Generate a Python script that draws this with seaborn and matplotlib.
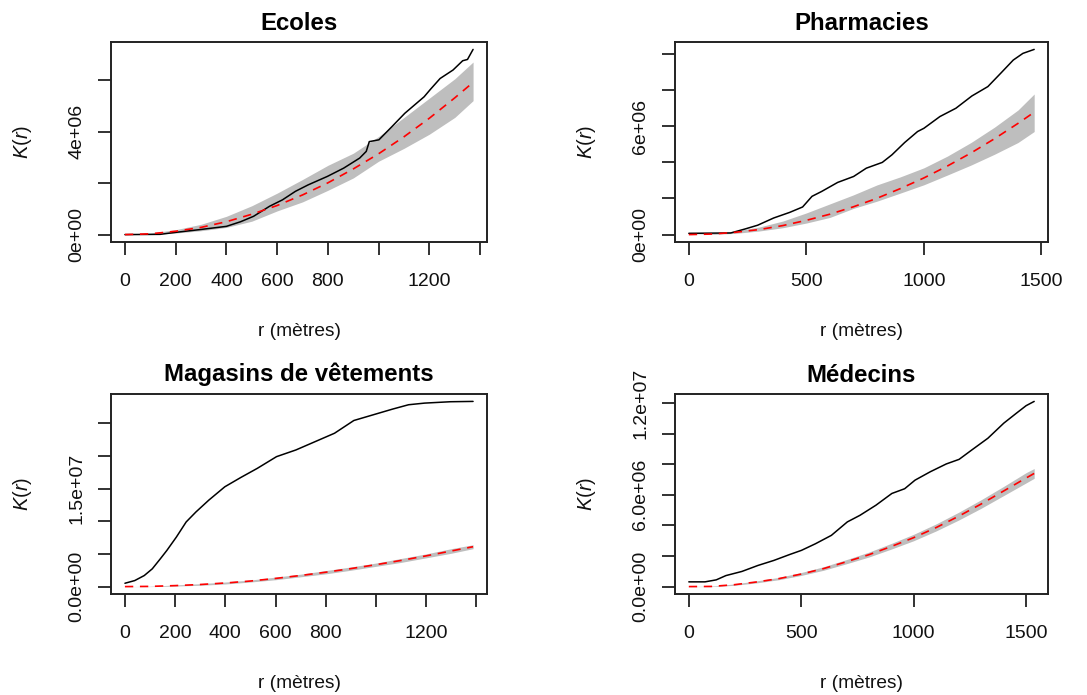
import matplotlib
matplotlib.use("Agg")
import numpy as np
import pandas as pd
import matplotlib.pyplot as plt
import seaborn as sns

# ---------------------------------------------------------------------------
# Ripley K function: observed curve, theoretical (CSR) curve and envelope.
# K values are in millions (m^2 x 1e6), distances r in metres.
# ---------------------------------------------------------------------------

titles = ["Ecoles", "Pharmacies", "Magasins de vêtements", "Médecins"]

# Ecoles
ecoles_r_obs = [0, 139, 203, 292, 400, 456, 507, 570, 621, 672, 722, 798, 862,
                925, 951, 963, 1001, 1052, 1103, 1141, 1179, 1204, 1242, 1293,
                1331, 1350, 1372]
ecoles_k_obs = [0.00, 0.01, 0.09, 0.19, 0.32, 0.50, 0.71, 1.10, 1.35, 1.68,
                1.93, 2.26, 2.58, 2.97, 3.23, 3.61, 3.68, 4.19, 4.71, 5.03,
                5.35, 5.64, 6.06, 6.39, 6.75, 6.80, 7.19]
ecoles_r_env = [0, 100, 200, 300, 400, 500, 600, 700, 800, 900, 1000, 1100,
                1200, 1300, 1372]
ecoles_k_theo = [0.00, 0.03, 0.13, 0.28, 0.50, 0.79, 1.13, 1.54, 2.01, 2.55,
                 3.14, 3.80, 4.52, 5.31, 5.91]
ecoles_k_hi = [0.00, 0.06, 0.19, 0.40, 0.71, 1.12, 1.61, 2.14, 2.69, 3.16,
               3.81, 4.55, 5.30, 6.05, 6.70]
ecoles_k_lo = [0.00, 0.01, 0.06, 0.15, 0.28, 0.52, 0.92, 1.27, 1.72, 2.20,
               2.85, 3.35, 3.90, 4.55, 5.20]

# Pharmacies
pharma_r_obs = [0, 178, 239, 293, 361, 429, 484, 524, 565, 633, 701, 755, 823,
                864, 918, 973, 1000, 1068, 1136, 1204, 1272, 1326, 1380, 1421,
                1469]
pharma_k_obs = [0.07, 0.09, 0.31, 0.52, 0.92, 1.23, 1.53, 2.12, 2.39, 2.89,
                3.22, 3.68, 4.00, 4.42, 5.10, 5.71, 5.89, 6.54, 7.00, 7.68,
                8.20, 8.93, 9.67, 10.04, 10.26]
pharma_r_env = [0, 100, 200, 300, 400, 500, 600, 700, 800, 900, 1000, 1100,
                1200, 1300, 1400, 1469]
pharma_k_theo = [0.00, 0.03, 0.13, 0.28, 0.50, 0.79, 1.13, 1.54, 2.01, 2.55,
                 3.14, 3.80, 4.52, 5.31, 6.16, 6.78]
pharma_k_hi = [0.00, 0.05, 0.20, 0.42, 0.75, 1.20, 1.70, 2.20, 2.75, 3.20,
               3.70, 4.35, 5.10, 5.95, 6.90, 7.79]
pharma_k_lo = [0.00, 0.01, 0.07, 0.20, 0.38, 0.64, 0.95, 1.45, 1.85, 2.30,
               2.76, 3.30, 3.85, 4.45, 5.10, 5.71]

# Magasins de vêtements
magasins_r_obs = [0, 39, 77, 109, 141, 167, 205, 244, 283, 334, 398, 462, 527,
                  604, 681, 758, 835, 912, 989, 1066, 1130, 1194, 1297, 1387]
magasins_k_obs = [0.51, 0.92, 1.69, 2.72, 4.25, 5.53, 7.58, 9.89, 11.42,
                  13.22, 15.27, 16.70, 18.08, 19.88, 20.90, 22.18, 23.46,
                  25.41, 26.28, 27.15, 27.82, 28.07, 28.28, 28.33]
magasins_r_env = [0, 100, 200, 300, 400, 500, 600, 700, 800, 900, 1000, 1100,
                  1200, 1300, 1387]
magasins_k_theo = [0.00, 0.03, 0.15, 0.32, 0.55, 0.85, 1.25, 1.70, 2.20, 2.75,
                   3.35, 4.00, 4.70, 5.45, 6.10]
magasins_k_hi = [0.00, 0.05, 0.25, 0.45, 0.70, 1.00, 1.45, 1.90, 2.45, 3.00,
                 3.60, 4.30, 5.00, 5.80, 6.40]
magasins_k_lo = [0.00, 0.00, 0.08, 0.20, 0.40, 0.70, 1.05, 1.50, 1.95, 2.50,
                 3.10, 3.70, 4.40, 5.10, 5.80]

# Médecins
medecins_r_obs = [0, 72, 122, 165, 236, 307, 378, 449, 501, 563, 634, 705, 761,
                  832, 903, 960, 1006, 1074, 1145, 1202, 1259, 1330, 1401,
                  1457, 1500, 1536]
medecins_k_obs = [0.31, 0.31, 0.44, 0.72, 0.99, 1.38, 1.71, 2.10, 2.37, 2.80,
                  3.35, 4.23, 4.66, 5.32, 6.09, 6.40, 6.96, 7.51, 8.02, 8.32,
                  8.94, 9.70, 10.69, 11.34, 11.83, 12.11]
medecins_r_env = [0, 100, 200, 300, 400, 500, 600, 700, 800, 900, 1000, 1100,
                  1200, 1300, 1400, 1500, 1536]
medecins_k_theo = [0.00, 0.01, 0.12, 0.30, 0.52, 0.82, 1.18, 1.62, 2.08, 2.62,
                   3.20, 3.86, 4.60, 5.40, 6.25, 7.10, 7.40]
medecins_k_hi = [0.00, 0.03, 0.17, 0.37, 0.60, 0.92, 1.30, 1.76, 2.25, 2.82,
                 3.42, 4.10, 4.86, 5.68, 6.55, 7.45, 7.72]
medecins_k_lo = [0.00, 0.00, 0.08, 0.24, 0.45, 0.73, 1.07, 1.49, 1.93, 2.45,
                 3.00, 3.64, 4.35, 5.12, 5.95, 6.78, 7.08]

# Axis ticks and their labels (empty strings are ticks without a label)
ecoles_xticks = [0, 200, 400, 600, 800, 1000, 1200, 1400]
ecoles_xlabels = ["0", "200", "400", "600", "800", "", "1200", ""]
ecoles_yticks = [0, 2e6, 4e6, 6e6]
ecoles_ylabels = ["0e+00", "", "4e+06", ""]

pharma_xticks = [0, 500, 1000, 1500]
pharma_xlabels = ["0", "500", "1000", "1500"]
pharma_yticks = [0, 2e6, 4e6, 6e6, 8e6, 10e6]
pharma_ylabels = ["0e+00", "", "", "6e+06", "", ""]

magasins_xticks = [0, 200, 400, 600, 800, 1000, 1200, 1400]
magasins_xlabels = ["0", "200", "400", "600", "800", "", "1200", ""]
magasins_yticks = [0, 5e6, 10e6, 15e6, 20e6, 25e6]
magasins_ylabels = ["0.0e+00", "", "", "1.5e+07", "", ""]

medecins_xticks = [0, 500, 1000, 1500]
medecins_xlabels = ["0", "500", "1000", "1500"]
medecins_yticks = [0, 2e6, 4e6, 6e6, 8e6, 10e6, 12e6]
medecins_ylabels = ["0.0e+00", "", "", "6.0e+06", "", "", "1.2e+07"]

xlabel_text = "r (mètres)"
ylabel_text = r"$K(r)$"

# ---------------------------------------------------------------------------
sns.set_style("ticks")
plt.rcParams["font.family"] = ["Liberation Sans", "DejaVu Sans"]
plt.rcParams["mathtext.fontset"] = "custom"
plt.rcParams["mathtext.it"] = "Liberation Sans:italic"
plt.rcParams["mathtext.rm"] = "Liberation Sans"
plt.rcParams["text.color"] = "black"

W, H = 1087, 695
fig = plt.figure(figsize=(W / 100, H / 100), dpi=100)
fig.patch.set_facecolor("white")


def axes_at(x0, y0, x1, y1):
    """Axes whose plotting box spans the given pixel rectangle."""
    return fig.add_axes([x0 / W, 1 - y1 / H, (x1 - x0) / W, (y1 - y0) / H])


panels = [
    dict(title=titles[0], box=(111, 42, 487, 242),
         r_obs=ecoles_r_obs, k_obs=ecoles_k_obs, r_env=ecoles_r_env,
         theo=ecoles_k_theo, hi=ecoles_k_hi, lo=ecoles_k_lo,
         xt=ecoles_xticks, xl=ecoles_xlabels,
         yt=ecoles_yticks, yl=ecoles_ylabels),
    dict(title=titles[1], box=(675, 42, 1048, 242),
         r_obs=pharma_r_obs, k_obs=pharma_k_obs, r_env=pharma_r_env,
         theo=pharma_k_theo, hi=pharma_k_hi, lo=pharma_k_lo,
         xt=pharma_xticks, xl=pharma_xlabels,
         yt=pharma_yticks, yl=pharma_ylabels),
    dict(title=titles[2], box=(111, 394, 487, 594),
         r_obs=magasins_r_obs, k_obs=magasins_k_obs, r_env=magasins_r_env,
         theo=magasins_k_theo, hi=magasins_k_hi, lo=magasins_k_lo,
         xt=magasins_xticks, xl=magasins_xlabels,
         yt=magasins_yticks, yl=magasins_ylabels),
    dict(title=titles[3], box=(675, 394, 1048, 594),
         r_obs=medecins_r_obs, k_obs=medecins_k_obs, r_env=medecins_r_env,
         theo=medecins_k_theo, hi=medecins_k_hi, lo=medecins_k_lo,
         xt=medecins_xticks, xl=medecins_xlabels,
         yt=medecins_yticks, yl=medecins_ylabels),
]

for p in panels:
    ax = axes_at(*p["box"])
    box_w = p["box"][2] - p["box"][0]
    box_h = p["box"][3] - p["box"][1]

    obs = pd.DataFrame({"r": p["r_obs"], "K": np.array(p["k_obs"]) * 1e6})
    env = pd.DataFrame({"r": p["r_env"],
                        "theo": np.array(p["theo"]) * 1e6,
                        "hi": np.array(p["hi"]) * 1e6,
                        "lo": np.array(p["lo"]) * 1e6})

    # simulation envelope
    ax.fill_between(env["r"], env["lo"], env["hi"], color="#BEBEBE",
                    linewidth=0, zorder=1)
    # observed K
    sns.lineplot(data=obs, x="r", y="K", ax=ax, color="black", linewidth=1.1,
                 estimator=None, sort=False, zorder=3)
    # theoretical K under CSR
    sns.lineplot(data=env, x="r", y="theo", ax=ax, color="red",
                 linewidth=1.2, linestyle=(0, (5, 4)), estimator=None,
                 sort=False, zorder=4)

    # R-style 4% padding around the data range
    xmin, xmax = 0, max(obs["r"].max(), env["r"].max())
    ymin = min(obs["K"].min(), env["lo"].min())
    ymax = max(obs["K"].max(), env["hi"].max())
    dx, dy = 0.04 * (xmax - xmin), 0.04 * (ymax - ymin)
    ax.set_xlim(xmin - dx, xmax + dx)
    ax.set_ylim(ymin - dy, ymax + dy)

    ax.set_xticks(p["xt"])
    ax.set_xticklabels(p["xl"])
    ax.set_yticks(p["yt"])
    ax.set_yticklabels(p["yl"], rotation=90, va="center")
    ax.tick_params(axis="both", direction="out", length=9.4, width=1.3,
                   color="#222222", labelsize=14, labelcolor="#111111")
    ax.tick_params(axis="x", pad=13)
    ax.tick_params(axis="y", pad=9)

    for s in ax.spines.values():
        s.set_visible(True)
        s.set_linewidth(1.4)
        s.set_color("#222222")

    ax.set_title(p["title"], fontsize=17.3, fontweight="bold", pad=9,
                 color="black")

    ax.set_xlabel(xlabel_text, fontsize=13.8, color="#111111")
    ax.xaxis.label.set_va("center")
    ax.xaxis.set_label_coords(0.5, -90 / box_h)
    ax.set_ylabel(ylabel_text, fontsize=14.5, color="#111111")
    ax.yaxis.label.set_va("center")
    ax.yaxis.label.set_ha("center")
    ax.yaxis.set_label_coords(-88 / box_w, 0.5)

fig.savefig("out.png", dpi=100, facecolor="white")
